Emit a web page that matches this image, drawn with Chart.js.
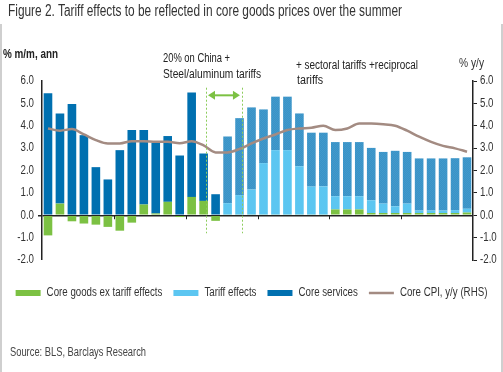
<!DOCTYPE html>
<html>
<head>
<meta charset="utf-8">
<script src="https://cdn.jsdelivr.net/npm/chart.js@4.4.1/dist/chart.umd.min.js"></script>
<style>
  html,body{margin:0;padding:0;background:#fff;}
  #wrap{position:relative;width:503px;height:372px;overflow:hidden;background:#fff;}
  #c{position:absolute;left:0;top:0;}
  .t{position:absolute;white-space:nowrap;display:inline-block;transform-origin:0 50%;color:#3a3a3a;line-height:1;}
  .bl{position:absolute;top:24px;bottom:0;width:2px;background:#cfcfcf;}
</style>
</head>
<body>
<div id="wrap">
  <canvas id="c" width="503" height="372"></canvas>
  <div class="bl" style="left:0"></div>
  <div class="bl" style="left:501px"></div>
  <div class="t" data-w="394" data-cy="11" style="left:8px;font-size:16px;color:#333">Figure 2. Tariff effects to be reflected in core goods prices over the summer</div>
  <div class="t" data-w="55" data-cy="54" style="left:3px;font-size:12px;font-weight:bold;color:#222">% m/m, ann</div>
  <div class="t" data-w="25" data-cy="63" style="left:459px;font-size:12px;color:#333">% y/y</div>
  <div class="t" data-w="67" data-cy="58" style="left:163px;font-size:12px;color:#222">20% on China +</div>
  <div class="t" data-w="98" data-cy="74" style="left:163px;font-size:12px;color:#222">Steel/aluminum tariffs</div>
  <div class="t" data-w="122" data-cy="65" style="left:296px;font-size:12px;color:#222">+ sectoral tariffs +reciprocal</div>
  <div class="t" data-w="26" data-cy="80" style="left:297px;font-size:12px;color:#222">tariffs</div>
  <div class="t" data-w="136" data-cy="352" style="left:10px;font-size:12px;color:#444">Source: BLS, Barclays Research</div>
</div>
<script>
// ---------------- DATA ----------------
const months = ['Jan-24','Feb-24','Mar-24','Apr-24','May-24','Jun-24','Jul-24','Aug-24','Sep-24','Oct-24','Nov-24','Dec-24',
                'Jan-25','Feb-25','Mar-25','Apr-25','May-25','Jun-25','Jul-25','Aug-25','Sep-25','Oct-25','Nov-25','Dec-25',
                'Jan-26','Feb-26','Mar-26','Apr-26','May-26','Jun-26','Jul-26','Aug-26','Sep-26','Oct-26','Nov-26','Dec-26'];
const goodsExTariff = [-0.90, 0.52, -0.27, -0.37, -0.42, -0.52, -0.69, -0.33, 0.48, 0.08, 0.60, -0.08,
                        0.82, 0.64, -0.25, 0.03, 0.03, 0.03, 0.03, 0.03, 0.03, 0.03, 0.03, 0.03,
                        0.26, 0.26, 0.26, 0.10, 0.10, 0.10, 0.10, 0.10, 0.10, 0.10, 0.10, 0.12];
const tariffEffects = [0,0,0,0,0,0,0,0,0,0,0,0,
                       0,0,0, 0.51, 0.87, 1.12, 2.30, 2.88, 2.88, 2.16, 1.25, 1.26,
                       0.59, 0.59, 0.59, 0.57, 0.42, 0.30, 0.42, 0.11, 0.11, 0.11, 0.13, 0.17];
const coreServices = [5.45, 4.03, 4.97, 3.58, 2.15, 1.60, 2.91, 3.81, 3.33, 3.16, 2.94, 2.67,
                      4.67, 2.12, 0.94, 2.98, 3.44, 3.67, 2.40, 2.39, 2.39, 2.36, 2.41, 2.40,
                      2.42, 2.42, 2.42, 2.34, 2.31, 2.48, 2.31, 2.33, 2.33, 2.33, 2.32, 2.30];
const coreCpiYoY = [3.88, 3.78, 3.85, 3.61, 3.36, 3.21, 3.21, 3.31, 3.31, 3.28, 3.28, 3.22,
                    3.31, 3.12, 2.81, 2.81, 2.96, 3.21, 3.43, 3.61, 3.81, 3.88, 3.91, 4.00,
                    3.81, 3.88, 4.10, 4.10, 4.07, 4.00, 3.78, 3.51, 3.28, 3.10, 2.99, 2.84];
const axisTicks = [-2, -1, 0, 1, 2, 3, 4, 5, 6];
const xLabelMonths = ['Jan-24','Jul-24','Jan-25','Jul-25','Jan-26','Jul-26'];
const forecastStart = 'Apr-25';
const tariffWindow = ['Feb-25','May-25'];
const seriesNames = ['Core goods ex tariff effects','Tariff effects','Core services','Core CPI, y/y (RHS)'];

// ---------------- FONTS ----------------
const FAM = '"Liberation Sans", Arial, sans-serif';
document.querySelectorAll('.t').forEach(el=>{
  el.style.fontFamily=FAM;
  const r=el.getBoundingClientRect();
  el.style.top=(+el.dataset.cy - r.height/2)+'px';
  el.style.transform='scaleX('+(+el.dataset.w/r.width)+')';
});
// condensed canvas text (the reference uses a narrow face)
const canvas=document.getElementById('c');
const cx=canvas.getContext('2d');
const SX=0.81;
const origFill=CanvasRenderingContext2D.prototype.fillText;
const origMeasure=CanvasRenderingContext2D.prototype.measureText;
cx.fillText=function(t,x,y,mw){ this.save(); this.translate(x,y); this.scale(SX,1); origFill.call(this,t,0,0); this.restore(); };
cx.measureText=function(t){ const m=origMeasure.call(this,t); return {width:m.width*SX, actualBoundingBoxAscent:m.actualBoundingBoxAscent, actualBoundingBoxDescent:m.actualBoundingBoxDescent, actualBoundingBoxLeft:m.actualBoundingBoxLeft*SX, actualBoundingBoxRight:m.actualBoundingBoxRight*SX}; };

// ---------------- STYLE ----------------
const fIdx = months.indexOf(forecastStart);
const pc=document.createElement('canvas'); pc.width=2; pc.height=2;
const px=pc.getContext('2d'); px.fillStyle='#3993c7'; px.fillRect(0,0,2,2);
px.fillStyle='#4299cb'; px.fillRect(0,0,1,1); px.fillRect(1,1,1,1);
const pattern = px.createPattern(pc,'repeat');
const GREEN='#7cc143', LIGHT='#5cc6f1', DARK='#0070b0', LINE='#a38b82';

const overlay = {
  id:'overlay',
  afterDatasetsDraw(chart){
    const {ctx, scales:{x,y}} = chart;
    ctx.save();
    ctx.strokeStyle='#222'; ctx.lineWidth=1;
    const y0=y.getPixelForValue(0);
    xLabelMonths.slice(1).forEach(m=>{
      const i=months.indexOf(m);
      const xx=Math.round((x.getPixelForValue(i-1)+x.getPixelForValue(i))/2)+0.5;
      ctx.beginPath(); ctx.moveTo(xx,y0); ctx.lineTo(xx,y0+4); ctx.stroke();
    });
    const w = x.getPixelForValue(1)-x.getPixelForValue(0);
    const x1 = x.getPixelForValue(months.indexOf(tariffWindow[0]))+0.2*w;
    const x2 = x.getPixelForValue(months.indexOf(tariffWindow[1]))+0.2*w;
    const yt=y.getPixelForValue(5.7), yb=y.getPixelForValue(-0.8);
    ctx.strokeStyle='#8ccc5c'; ctx.lineWidth=1; ctx.setLineDash([2,2]);
    [x1,x2].forEach(xx=>{ctx.beginPath(); ctx.moveTo(Math.round(xx)+0.5,yt); ctx.lineTo(Math.round(xx)+0.5,yb); ctx.stroke();});
    ctx.setLineDash([]);
    const ya=y.getPixelForValue(5.36);
    ctx.strokeStyle=GREEN; ctx.lineWidth=2;
    ctx.beginPath(); ctx.moveTo(x1+5,ya); ctx.lineTo(x2-5,ya); ctx.stroke();
    ctx.fillStyle=GREEN;
    ctx.beginPath(); ctx.moveTo(x1+2,ya); ctx.lineTo(x1+9,ya-4.5); ctx.lineTo(x1+9,ya+4.5); ctx.closePath(); ctx.fill();
    ctx.beginPath(); ctx.moveTo(x2-2,ya); ctx.lineTo(x2-9,ya-4.5); ctx.lineTo(x2-9,ya+4.5); ctx.closePath(); ctx.fill();
    ctx.restore();
  }
};

const barCommon = {type:'bar', yAxisID:'y', stack:'s', order:2, barPercentage:0.72, categoryPercentage:1, borderWidth:0, pointStyle:'rect'};
new Chart(canvas, {
  data:{
    labels: months,
    datasets:[
      Object.assign({label:seriesNames[0], data:goodsExTariff, backgroundColor:GREEN}, barCommon),
      Object.assign({label:seriesNames[1], data:tariffEffects, backgroundColor:LIGHT}, barCommon),
      Object.assign({label:seriesNames[2], data:coreServices,
        backgroundColor:c=> (c.type==='data' && c.dataIndex>=fIdx) ? pattern : DARK}, barCommon),
      {type:'line', label:seriesNames[3], data:coreCpiYoY, yAxisID:'y2', order:0, borderColor:LINE, backgroundColor:LINE,
       borderWidth:2.5, pointRadius:0, cubicInterpolationMode:'monotone', pointStyle:'line'}
    ]
  },
  options:{
    responsive:false, animation:false, devicePixelRatio:1,
    layout:{padding:{top:81,bottom:63,left:0,right:0}},
    plugins:{
      tooltip:{enabled:false},
      legend:{position:'bottom', labels:{usePointStyle:true, pointStyleWidth:25, boxHeight:6, padding:11,
        color:'#333', font:{family:FAM, size:12}, sort:(a,b)=>a.datasetIndex-b.datasetIndex}}
    },
    scales:{
      x:{type:'category', offset:true, grid:{display:false}, border:{display:false},
         ticks:{autoSkip:false, maxRotation:0, padding:11, color:'#333', font:{family:FAM,size:12},
           callback:function(v,i){const l=months[i]; return xLabelMonths.includes(l)?l:'';}},
         afterFit:s=>{s.height=16;}},
      y:{position:'left', stacked:true, min:axisTicks[0], max:axisTicks[axisTicks.length-1],
         afterBuildTicks:s=>{s.ticks=axisTicks.map(v=>({value:v}));},
         border:{display:true,color:'#222',width:1.5},
         grid:{color:c=>c.tick && c.tick.value===0?'#222':'rgba(0,0,0,0)', lineWidth:c=>c.tick && c.tick.value===0?1.5:0, tickColor:'#222', tickLength:4, drawTicks:true},
         ticks:{padding:4, color:'#333', font:{family:FAM,size:12}, callback:v=>Number(v).toFixed(1)},
         afterFit:s=>{s.width=42;}},
      y2:{position:'right', min:axisTicks[0], max:axisTicks[axisTicks.length-1],
         afterBuildTicks:s=>{s.ticks=axisTicks.map(v=>({value:v}));},
         border:{display:true,color:'#222',width:1.5},
         grid:{drawOnChartArea:false, tickColor:'#222', tickLength:4},
         ticks:{padding:3, color:'#333', font:{family:FAM,size:12}, callback:v=>Number(v).toFixed(1)},
         afterFit:s=>{s.width=30;}}
    }
  },
  plugins:[overlay]
});
</script>
</body>
</html>
